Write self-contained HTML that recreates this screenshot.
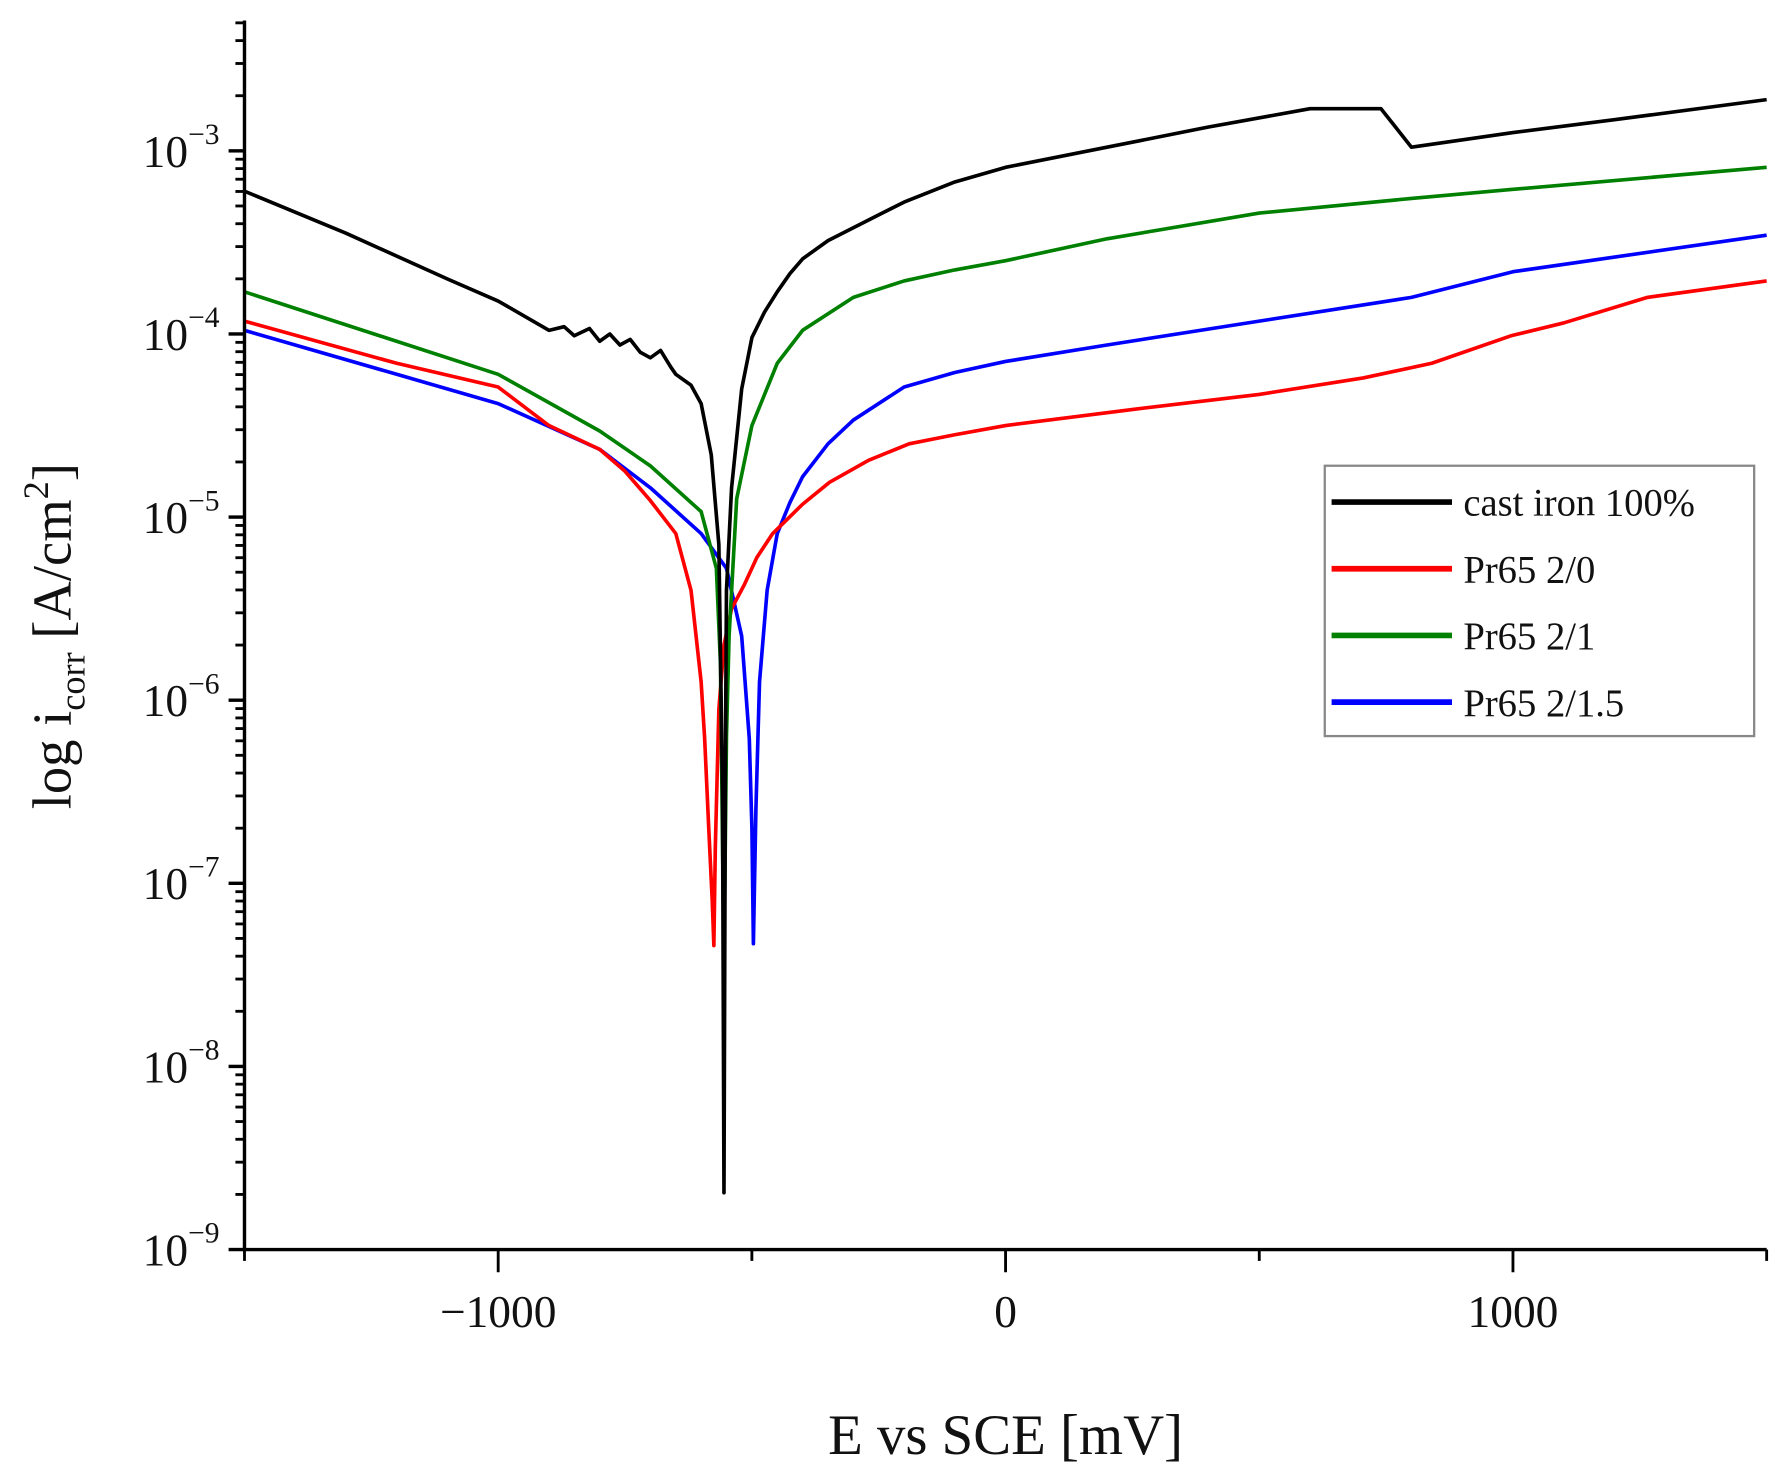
<!DOCTYPE html>
<html><head><meta charset="utf-8"><style>
html,body{margin:0;padding:0;background:#fff;}
svg{display:block;}
text{font-family:"Liberation Serif",serif;fill:#111;}
</style></head><body>
<svg id="chart" width="1776" height="1479" viewBox="0 0 1563 1302" xmlns="http://www.w3.org/2000/svg">
<g id="series"></g>
<g id="axes"></g>
</svg>
<script>
const categories=["cast iron 100%","Pr65 2/0","Pr65 2/1","Pr65 2/1.5"];
const colors=["#000000","#ff0000","#008000","#0000ff"];
const xTickValues=[-1000,0,1000];
const xTickLabels=["\u22121000","0","1000"];
const yTickExps=[-9,-8,-7,-6,-5,-4,-3];
const blackE=[-1500,-1300,-1100,-1000,-950,-900,-870,-850,-820,-800,-780,-760,-740,-720,-700,-680,-660,-650,-620,-600,-580,-565,-558,-555,-552,-550,-540,-520,-500,-475,-450,-425,-400,-350,-300,-250,-200,-100,0,200,400,600,740,800,1000,1200,1500];
const blackLog=[-3.22,-3.45,-3.70,-3.82,-3.90,-3.98,-3.96,-4.01,-3.97,-4.04,-4.00,-4.06,-4.03,-4.10,-4.13,-4.09,-4.18,-4.22,-4.28,-4.38,-4.66,-5.15,-6.5,-8.69,-6.3,-5.40,-4.84,-4.30,-4.02,-3.88,-3.77,-3.67,-3.59,-3.49,-3.42,-3.35,-3.28,-3.17,-3.09,-2.98,-2.87,-2.77,-2.77,-2.98,-2.90,-2.83,-2.72];
const redE=[-1500,-1200,-1000,-900,-800,-750,-700,-650,-620,-600,-593,-585,-578,-575,-572,-565,-555,-540,-515,-490,-459,-400,-347,-270,-190,-100,0,257,500,705,840,996,1100,1265,1500];
const redLog=[-3.93,-4.16,-4.29,-4.50,-4.63,-4.75,-4.91,-5.09,-5.40,-5.90,-6.21,-6.70,-7.10,-7.34,-6.80,-6.05,-5.70,-5.50,-5.37,-5.22,-5.09,-4.93,-4.81,-4.69,-4.60,-4.55,-4.50,-4.41,-4.33,-4.24,-4.16,-4.01,-3.94,-3.80,-3.71];
const greenE=[-1500,-1000,-800,-700,-600,-570,-562,-555,-550,-545,-530,-500,-450,-400,-300,-200,-100,0,200,500,800,1000,1500];
const greenLog=[-3.77,-4.22,-4.53,-4.72,-4.97,-5.28,-5.80,-7.45,-6.20,-5.65,-4.90,-4.50,-4.16,-3.98,-3.80,-3.71,-3.65,-3.60,-3.48,-3.34,-3.26,-3.21,-3.09];
const blueE=[-1500,-1200,-1000,-800,-700,-600,-550,-520,-505,-500,-497,-492,-485,-470,-450,-425,-400,-350,-300,-200,-100,0,200,500,800,1000,1500];
const blueLog=[-3.98,-4.22,-4.38,-4.63,-4.84,-5.09,-5.28,-5.65,-6.21,-6.70,-7.33,-6.60,-5.90,-5.40,-5.09,-4.92,-4.78,-4.60,-4.47,-4.29,-4.21,-4.15,-4.06,-3.93,-3.80,-3.66,-3.46];
const seriesE=[blackE,redE,greenE,blueE];
const seriesLog=[blackLog,redLog,greenLog,blueLog];

const NS="http://www.w3.org/2000/svg";
const X0=215,X1=1555,Y0=18,Y1=1100;
function xs(e){return X0+(e+1500)/3000*(X1-X0);}
function ys(l){return Y1-(l+9)*161.2;}
function mk(tag,attrs,parent){const el=document.createElementNS(NS,tag);for(const k in attrs)el.setAttribute(k,attrs[k]);parent.appendChild(el);return el;}
const sg=document.getElementById('series'),ag=document.getElementById('axes');
const names=["cast-iron-line","pr65-2-0-line","pr65-2-1-line","pr65-2-1-5-line"];
[3,1,2,0].forEach(i=>{
  const d=seriesE[i].map((e,j)=>(j?'L':'M')+xs(e).toFixed(1)+','+ys(seriesLog[i][j]).toFixed(1)).join(' ');
  const p=mk('path',{d:d,fill:'none',stroke:colors[i],'stroke-width':3.2,'stroke-linejoin':'round'},sg);
  
  
});
const yl=mk('line',{x1:X0,y1:Y0,x2:X0,y2:Y1+1.5,stroke:'#000','stroke-width':3},ag);


const xl=mk('line',{x1:X0-1.5,y1:Y1,x2:X1,y2:Y1,stroke:'#000','stroke-width':3},ag);


for(let ex=-9;ex<=-3;ex++){
  mk('line',{x1:X0-14,y1:ys(ex),x2:X0,y2:ys(ex),stroke:'#000','stroke-width':3},ag);
}
for(let ex=-9;ex<=-3;ex++){
  for(let m=2;m<=9;m++){
    const y=ys(ex+Math.log10(m));
    if(y<Y0)continue;
    mk('line',{x1:X0-8,y1:y,x2:X0,y2:y,stroke:'#000','stroke-width':2.5},ag);
  }
}
yTickExps.forEach(ex=>{
  const t=mk('text',{x:X0-22,y:ys(ex)+14,'text-anchor':'end','font-size':40},ag);
  
  
  t.textContent='10';
  const s=mk('tspan',{dy:-20,'font-size':26},t);
  s.textContent='\u2212'+(-ex);
});
[-1500,-500,500,1500].forEach(v=>mk('line',{x1:xs(v),y1:Y1,x2:xs(v),y2:Y1+10,stroke:'#000','stroke-width':2.5},ag));
xTickValues.forEach((v,i)=>{
  mk('line',{x1:xs(v),y1:Y1,x2:xs(v),y2:Y1+20,stroke:'#000','stroke-width':2.5},ag);
  const t=mk('text',{x:xs(v),y:1168,'text-anchor':'middle','font-size':40},ag);
  
  
  t.textContent=xTickLabels[i];
});
const xt=mk('text',{x:885,y:1280,'text-anchor':'middle','font-size':50},ag);


xt.textContent='E vs SCE [mV]';
const yt=mk('text',{transform:'translate(62,560) rotate(-90)','text-anchor':'middle','font-size':48},ag);


yt.textContent='log i';
const sub=mk('tspan',{dy:12,'font-size':32},yt);sub.textContent='corr';
const r=mk('tspan',{dy:-12},yt);r.textContent=' [A/cm';
const sup=mk('tspan',{dy:-20,'font-size':32},yt);sup.textContent='2';
const r2=mk('tspan',{dy:20},yt);r2.textContent=']';
const lg=mk('g',{},ag);


mk('rect',{x:1166,y:410,width:378,height:238,fill:'#fff',stroke:'#888','stroke-width':2},lg);
categories.forEach((c,i)=>{
  const y=442+i*58.7;
  const e=mk('g',{},lg);
  
  
  mk('line',{x1:1172,y1:y,x2:1278,y2:y,stroke:colors[i],'stroke-width':5},e);
  const t=mk('text',{x:1288,y:y+12,'font-size':34},e);
  t.textContent=c;
});
</script>
</body></html>
